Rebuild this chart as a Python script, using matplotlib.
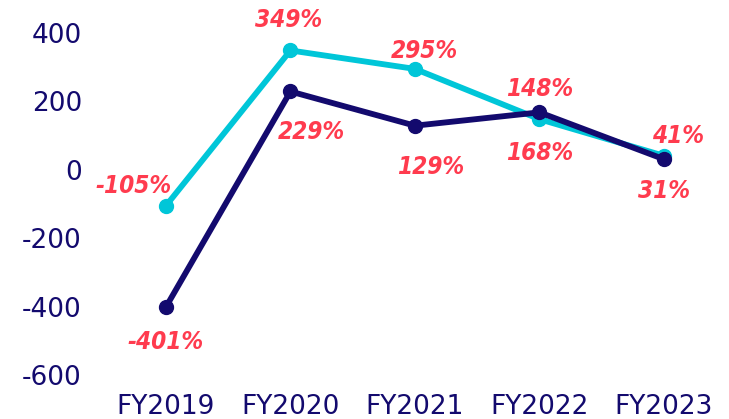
import matplotlib
matplotlib.use("Agg")
import matplotlib.pyplot as plt

plt.rcParams["axes.unicode_minus"] = False

years = ["FY2019", "FY2020", "FY2021", "FY2022", "FY2023"]
cyan_vals = [-105, 349, 295, 148, 41]
navy_vals = [-401, 229, 129, 168, 31]
yticks = [-600, -400, -200, 0, 200, 400]

CYAN = "#00c6d8"
NAVY = "#130a6e"
RED = "#ff3b4e"

# label offsets in points (dx, dy), cyan above / navy below
cyan_off = [(-23, 14), (-1, 22), (7, 13), (0, 22), (10, 14)]
navy_off = [(0, -25), (15, -29), (11, -30), (0, -29), (0, -23)]

fig = plt.figure(figsize=(7.29, 4.19), dpi=100)
ax = fig.add_axes([100 / 729, 44 / 419, 600 / 729, 342 / 419])

x = list(range(len(years)))
ax.plot(x, cyan_vals, color=CYAN, lw=4.2, marker="o", ms=10, clip_on=False, zorder=2)
ax.plot(x, navy_vals, color=NAVY, lw=4.2, marker="o", ms=10, clip_on=False, zorder=3)

lab_font = dict(family="DejaVu Sans", stretch="condensed", weight="bold",
                style="italic", size=17.5, color=RED)
for i in x:
    ax.annotate(f"{cyan_vals[i]}%", (i, cyan_vals[i]), xytext=cyan_off[i],
                textcoords="offset points", ha="center", va="center", **lab_font)
    ax.annotate(f"{navy_vals[i]}%", (i, navy_vals[i]), xytext=navy_off[i],
                textcoords="offset points", ha="center", va="center", **lab_font)

ax.set_xlim(-0.53, 4.29)
ax.set_ylim(-600, 400)
ax.set_xticks(x)
ax.set_xticklabels(years)
ax.set_yticks(yticks)
ax.tick_params(length=0, labelsize=19, labelcolor=NAVY)
ax.tick_params(axis="x", pad=14)
ax.tick_params(axis="y", pad=13)
for s in ax.spines.values():
    s.set_visible(False)

fig.savefig("out.png", dpi=100)
